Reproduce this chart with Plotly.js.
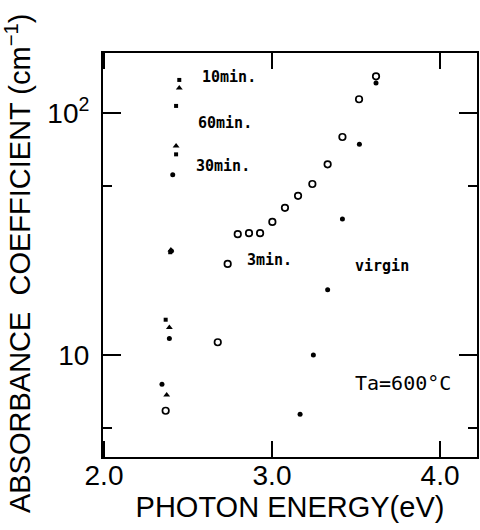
<!DOCTYPE html>
<html>
<head>
<meta charset="utf-8">
<script src="https://cdn.plot.ly/plotly-3.0.1.min.js"></script>
<style>html,body{margin:0;padding:0;background:#fff;}#chart{width:480px;height:530px;}</style>
</head>
<body>
<div id="chart"></div>
<script>
// Photon energy (eV) and absorbance coefficient (cm^-1)
const virginX = [3.167, 3.246, 3.331, 3.419, 3.520, 3.619];
const virginY = [5.69, 10.0, 18.6, 36.5, 74.3, 133];

const min3X = [2.367, 2.677, 2.736, 2.796, 2.863, 2.929, 3.002, 3.077, 3.155, 3.240, 3.331, 3.419, 3.518, 3.619];
const min3Y = [5.89, 11.3, 23.8, 31.6, 31.9, 31.9, 35.5, 40.6, 45.5, 50.9, 61.4, 79.6, 114, 141.8];

const min10X = [2.345, 2.389, 2.401, 2.409];
const min10Y = [7.57, 11.7, 26.9, 55.6];

const min30X = [2.373, 2.389, 2.398, 2.429, 2.448];
const min30Y = [6.84, 13.0, 27.2, 73.1, 127];

const min60X = [2.367, 2.394, 2.429, 2.429, 2.448];
const min60Y = [14.0, 26.6, 67.5, 107, 137];

const xTickVals = [2, 3, 4];
const xTickText = ["2.0", "3.0", "4.0"];
const yTickVals = [10, 100];
const yTickText = ["10", "10<sup>2</sup>"];
const yMinorVals = [5, 50];

const xTitle = "PHOTON ENERGY(eV)";
const yTitle = "ABSORBANCE  COEFFICIENT (cm<sup>−1</sup>)";
const labelTexts = ["10min.", "60min.", "30min.", "3min.", "virgin", "Ta=600°C"];

const black = "#000";
const traces = [
  {x: virginX, y: virginY, name: "virgin", mode: "markers", type: "scatter",
   marker: {symbol: "circle", size: 5, color: black}},
  {x: min3X, y: min3Y, name: "3min.", mode: "markers", type: "scatter",
   marker: {symbol: "circle-open", size: 6.5, color: black, line: {width: 1.7, color: black}}},
  {x: min10X, y: min10Y, name: "10min.", mode: "markers", type: "scatter",
   marker: {symbol: "circle", size: 5, color: black}},
  {x: min30X, y: min30Y, name: "30min.", mode: "markers", type: "scatter",
   marker: {symbol: "triangle-up", size: 6, color: black}},
  {x: min60X, y: min60Y, name: "60min.", mode: "markers", type: "scatter",
   marker: {symbol: "square", size: 4, color: black}}
];

const annFont = {family: "DejaVu Sans Mono", size: 15, color: black, weight: "bold"};
const annPos = [
  [2.744, 2.149], [2.720, 1.959], [2.708, 1.781], [2.982, 1.393], [3.655, 1.368], [3.780, 0.884]
];
const annotations = labelTexts.map((t, i) => ({
  text: i === 5 ? t : "<b>" + t + "</b>", x: annPos[i][0], y: annPos[i][1], xref: "x", yref: "y",
  showarrow: false, font: i === 5 ? Object.assign({}, annFont, {size: 20, weight: "normal"}) : annFont
}));
// y-axis title, placed as a rotated annotation for exact vertical placement
annotations.push({
  text: yTitle, xref: "paper", yref: "paper", x: -0.2273, y: 0.480,
  xanchor: "center", yanchor: "middle", textangle: -90, showarrow: false,
  font: {family: "Liberation Sans, Arial, sans-serif", size: 29, color: black}
});

const layout = {
  width: 480, height: 530,
  margin: {l: 103, r: 3, t: 53, b: 73},
  paper_bgcolor: "#fff", plot_bgcolor: "#fff",
  showlegend: false,
  font: {family: "Liberation Sans, Arial, sans-serif", color: black},
  xaxis: {
    range: [1.994, 4.220], showgrid: false, zeroline: false,
    showline: true, linewidth: 2, linecolor: black, mirror: "ticks",
    ticks: "inside", ticklen: 16, tickwidth: 2, tickcolor: black,
    tickmode: "array", tickvals: xTickVals, ticktext: xTickText,
    tickfont: {size: 28}, ticklabelstandoff: -8,
    title: {text: xTitle, font: {size: 29}, standoff: 2}
  },
  yaxis: {
    type: "log", range: [0.579, 2.248], showgrid: false, zeroline: false,
    showline: true, linewidth: 2, linecolor: black, mirror: "ticks",
    ticks: "inside", ticklen: 18, tickwidth: 2, tickcolor: black,
    tickmode: "array", tickvals: yTickVals, ticktext: yTickText,
    tickfont: {size: 28}, ticklabelstandoff: 6,
    minor: {tickvals: yMinorVals, ticks: "inside", ticklen: 9, tickwidth: 2, tickcolor: black}
  },
  annotations: annotations
};

Plotly.newPlot("chart", traces, layout, {staticPlot: true, displayModeBar: false});
</script>
</body>
</html>
